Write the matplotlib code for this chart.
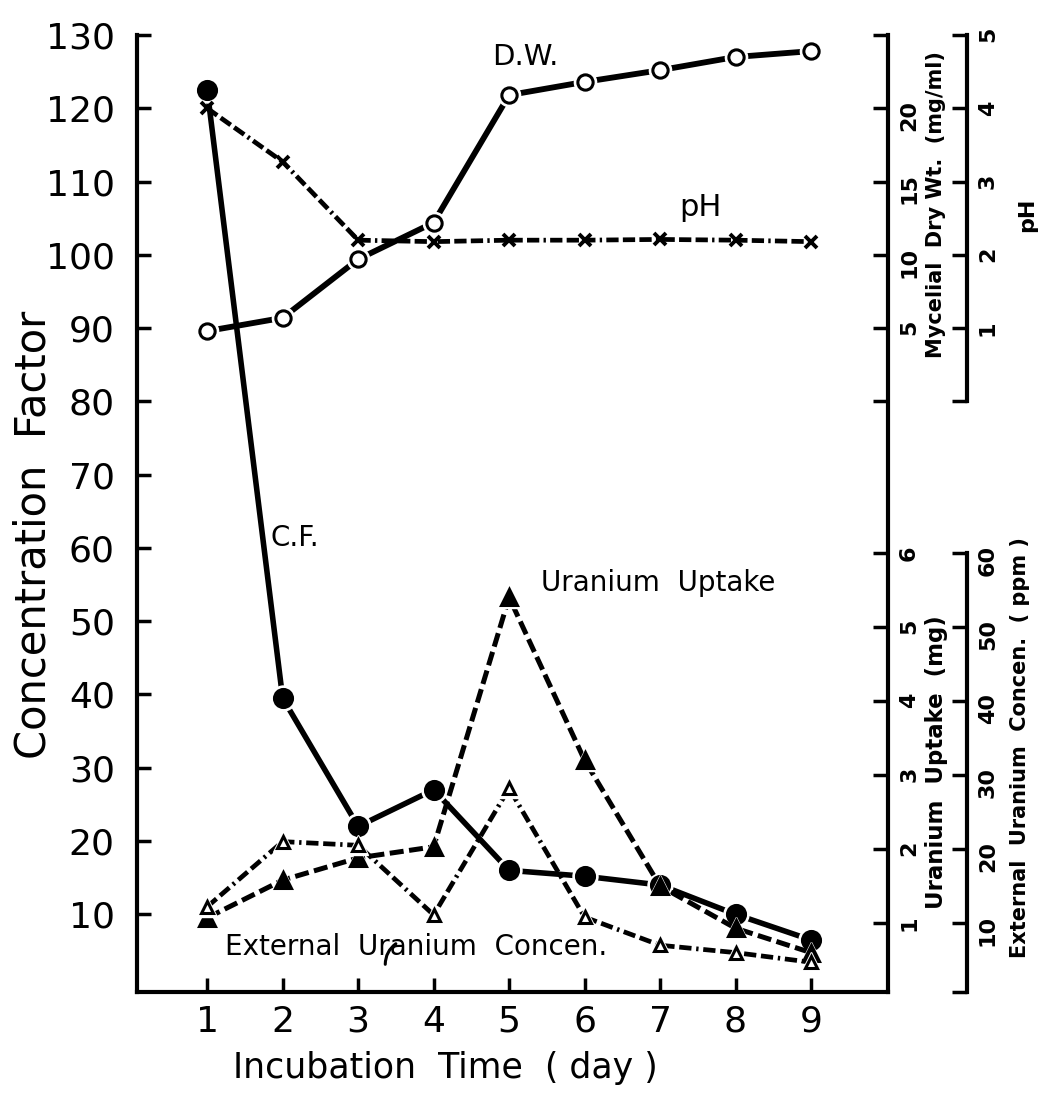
"""Concentration factor, dry weight, pH and uranium vs incubation time."""

import matplotlib
matplotlib.use("Agg")
import matplotlib.pyplot as plt

days = [1, 2, 3, 4, 5, 6, 7, 8, 9]
conc_factor = [122.5, 39.5, 22, 27, 16, 15.2, 14, 10, 6.5]
dry_weight = [4.8, 5.7, 9.7, 12.2, 20.9, 21.8, 22.6, 23.5, 23.9]
ph_values = [4.0, 3.27, 2.2, 2.18, 2.2, 2.2, 2.21, 2.2, 2.18]
uptake_mg = [1.07, 1.58, 1.88, 2.03, 5.4, 3.2, 1.5, 0.93, 0.6]
ext_conc_ppm = [12.2, 21, 20.5, 11.1, 28.2, 10.8, 7.0, 6.0, 4.7]

cf_ticks = [10, 20, 30, 40, 50, 60, 70, 80, 90, 100, 110, 120, 130]
dw_ticks = [0, 5, 10, 15, 20, 25]
ph_ticks = [0, 1, 2, 3, 4, 5]
uptake_ticks = [1, 2, 3, 4, 5, 6]
ext_ticks = [0.7, 10, 20, 30, 40, 50, 60]

plt.rcParams["font.family"] = ["DejaVu Sans"]

W, H = 1039, 1096
fig = plt.figure(figsize=(W / 100, H / 100), dpi=100)
ax = fig.add_axes([137 / W, 1 - 992 / H, (888 - 137) / W, (992 - 35) / H])

cf_lim = (-0.6, 130)
ax.set_xlim(0.07, 10.02)
ax.set_ylim(*cf_lim)
ax.spines["top"].set_visible(False)
for s in ("left", "bottom", "right"):
    ax.spines[s].set_linewidth(3)
ax.set_xticks(days)
ax.set_yticks(cf_ticks)
ax.tick_params(axis="both", direction="in", width=2.5, length=10, labelsize=26, pad=16)
ax.tick_params(axis="x", pad=9)
fig.text(445 / W, 1 - 1068 / H, "Incubation  Time  ( day )", fontsize=25,
         ha="center", va="center")
fig.text(34 / W, 1 - 535 / H, "Concentration  Factor", fontsize=30, rotation=90,
         ha="center", va="center")


def twin(lim, ticks, labels, pos=None, bounds=None):
    t = ax.twinx()
    t.set_ylim(*lim)
    for s in ("left", "top", "bottom"):
        t.spines[s].set_visible(False)
    if pos is None:
        t.spines["right"].set_visible(False)
    else:
        t.spines["right"].set_position(("axes", pos))
        t.spines["right"].set_linewidth(3)
        t.spines["right"].set_bounds(*bounds)
    t.set_yticks(ticks)
    t.set_yticklabels(labels, fontweight="bold")
    t.tick_params(axis="y", direction="in", width=2.5, length=11, labelsize=16,
                  labelrotation=90, pad=8)
    return t


# right scales are tied to the C.F. scale: DW = (CF-80)/2, pH = (CF-80)/10
ax_dw = twin(((cf_lim[0] - 80) / 2, (cf_lim[1] - 80) / 2), dw_ticks,
             ["", "5", "10", "15", "20", ""])
ax_up = twin((0.068, 13.0), uptake_ticks, [str(v) for v in uptake_ticks])
ax_ph = twin(((cf_lim[0] - 80) / 10, (cf_lim[1] - 80) / 10), ph_ticks,
             ["", "1", "2", "3", "4", "5"], pos=1.105, bounds=(0, 5))
ax_ext = twin((0.68, 130), ext_ticks, ["", "10", "20", "30", "40", "50", "60"],
              pos=1.105, bounds=(0.7, 60))


def series(a, y, marker, ms, fill, ls, lw):
    a.plot(days, y, color="black", lw=lw, linestyle=ls, zorder=2)
    a.plot(days, y, linestyle="none", marker=marker, ms=ms + 5, color="white",
           mec="white", zorder=3)
    a.plot(days, y, linestyle="none", marker=marker, ms=ms, mfc=fill, mec="black",
           mew=2.2, zorder=4)


dash_ph = (0, (2.6, 0.9, 2.6, 0.9, 2.6, 0.9, 0.5, 0.9))
dash_up = (0, (2.8, 1.1))
dash_ext = (0, (2.6, 1.0, 2.6, 1.0, 0.5, 1.0))

series(ax, conc_factor, "o", 13, "black", "-", 4)
series(ax_dw, dry_weight, "o", 11, "white", "-", 4.2)
ax_ph.plot(days, ph_values, color="black", lw=3.4, linestyle=dash_ph)
ax_ph.plot(days, ph_values, linestyle="none", marker="x", ms=9, mew=2.8, color="black")
series(ax_up, uptake_mg, "^", 11, "black", dash_up, 3.6)
series(ax_ext, ext_conc_ppm, "^", 9, "white", dash_ext, 3.4)

# line labels
ax.text(5.21, 127.0, "D.W.", fontsize=21, ha="center", va="center")
ax.text(7.53, 106.5, "pH", fontsize=22, ha="center", va="center")
ax.text(2.16, 61.3, "C.F.", fontsize=20, ha="center", va="center")
ax.text(6.97, 55.2, "Uranium  Uptake", fontsize=20, ha="center", va="center")
ax.text(3.77, 5.5, "External  Uranium  Concen.", fontsize=20, ha="center", va="center")
ax.annotate("", xy=(3.53, 6.2), xytext=(3.36, 2.8),
            arrowprops=dict(arrowstyle="-", lw=2.2, color="black",
                            connectionstyle="arc3,rad=-0.3"))

# right axis titles
fig.text(936 / W, 1 - 205 / H, "Mycelial  Dry Wt.  (mg/ml)", rotation=90,
         fontsize=15, fontweight="bold", ha="center", va="center")
fig.text(1027 / W, 1 - 215 / H, "pH", rotation=90,
         fontsize=16, fontweight="bold", ha="center", va="center")
fig.text(937 / W, 1 - 762 / H, "Uranium  Uptake  (mg)", rotation=90,
         fontsize=16.5, fontweight="bold", ha="center", va="center")
fig.text(1020 / W, 1 - 748 / H, "External  Uranium  Concen.  ( ppm )", rotation=90,
         fontsize=15, fontweight="bold", ha="center", va="center")

fig.savefig("out.png", dpi=100)
